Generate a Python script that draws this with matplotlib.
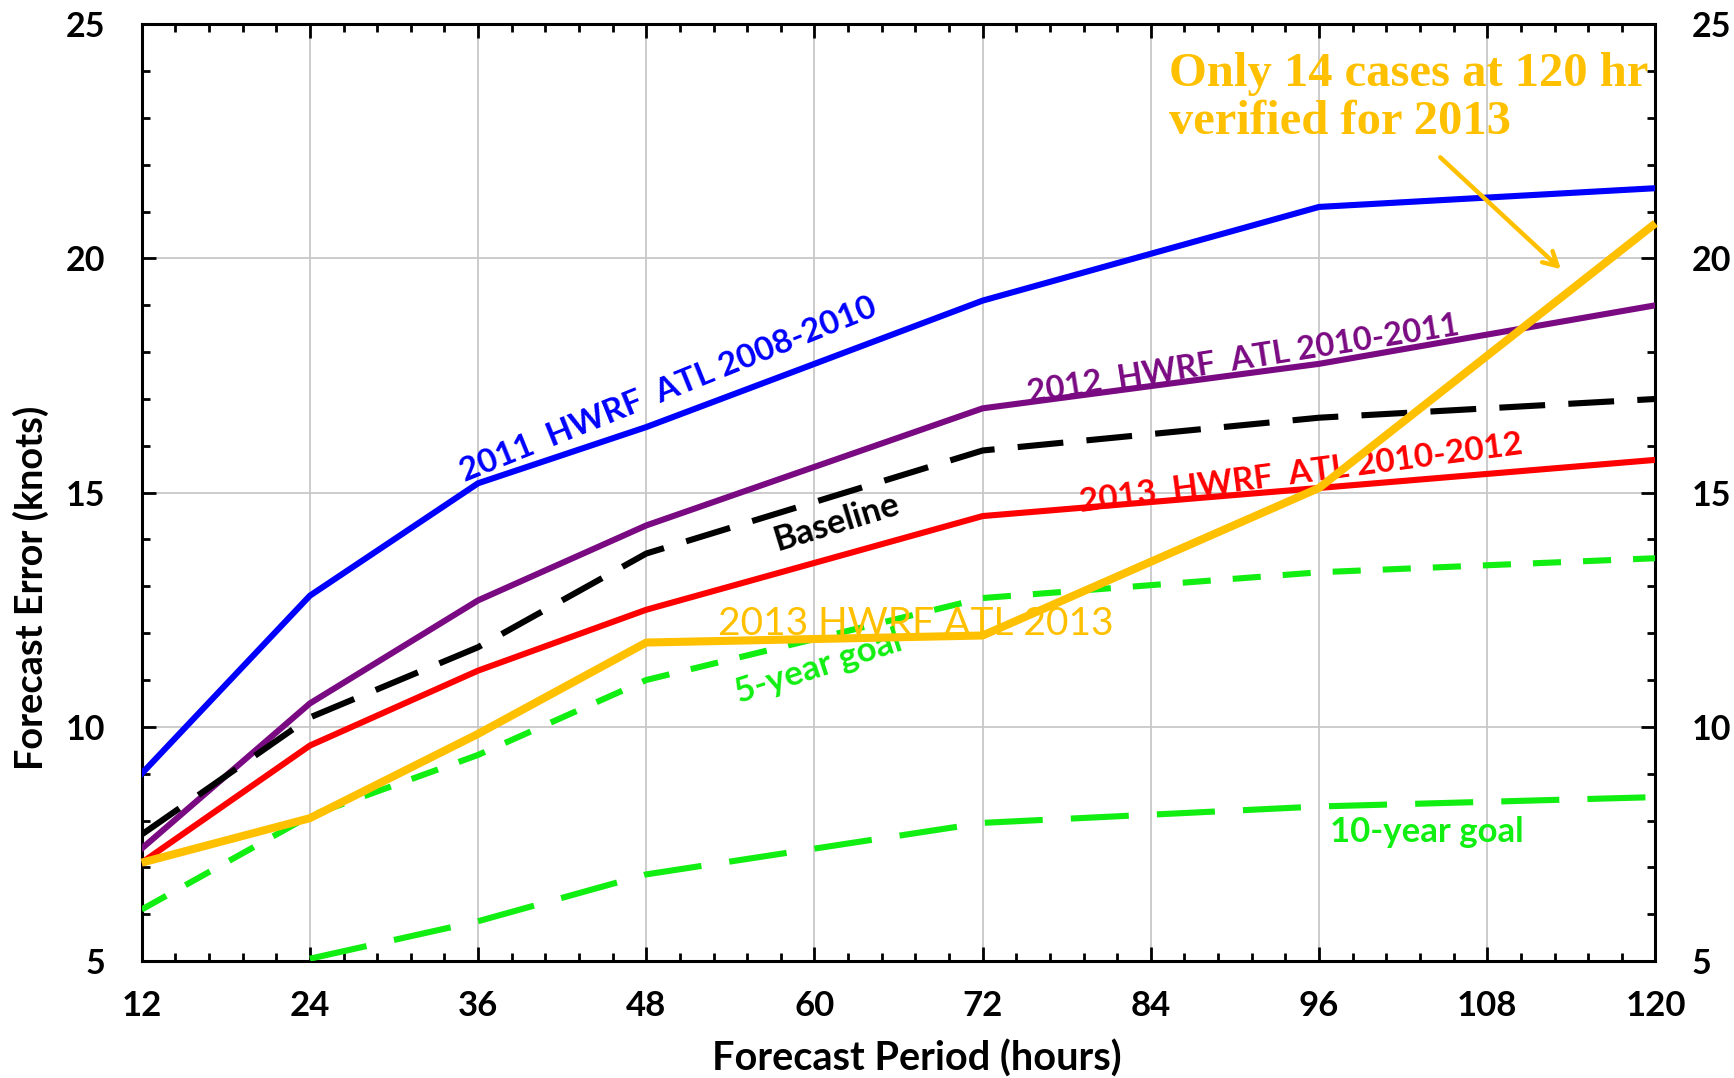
import matplotlib
matplotlib.use("Agg")
import matplotlib.pyplot as plt
from matplotlib.ticker import MultipleLocator

# Forecast lead times (hours)
hours = [12, 24, 36, 48, 72, 96, 120]
hours_10yr = [24, 36, 48, 72, 96, 120]

# Mean intensity forecast errors (knots)
hwrf_2011 = [9.0, 12.8, 15.2, 16.4, 19.1, 21.1, 21.5]
hwrf_2012 = [7.4, 10.5, 12.7, 14.3, 16.8, 17.75, 19.0]
baseline = [7.7, 10.2, 11.7, 13.7, 15.9, 16.6, 17.0]
hwrf_2013 = [7.1, 9.6, 11.2, 12.5, 14.5, 15.1, 15.7]
hwrf_2013_atl2013 = [7.1, 8.05, 9.85, 11.8, 11.95, 15.1, 20.75]
goal_5yr = [6.1, 8.1, 9.4, 11.0, 12.75, 13.3, 13.6]
goal_10yr = [5.05, 5.85, 6.85, 7.95, 8.3, 8.5]

x_ticks = [12, 24, 36, 48, 60, 72, 84, 96, 108, 120]
y_ticks = [5, 10, 15, 20, 25]

BLUE = "#0000FF"
PURPLE = "#7A0A82"
RED = "#FF0000"
GOLD = "#FFC000"
GREEN = "#11EE11"

sans = ["Lato", "DejaVu Sans"]
plt.rcParams["font.family"] = sans

fig = plt.figure(figsize=(17.34, 10.78), dpi=100)
ax = fig.add_axes([0.0817, 0.1085, 0.9547 - 0.0817, 0.9775 - 0.1085])

lw = 4.4
ax.plot(hours, hwrf_2011, color=BLUE, lw=lw, zorder=4)
ax.plot(hours, hwrf_2012, color=PURPLE, lw=lw, zorder=4)
ax.plot(hours, baseline, color="black", lw=lw, linestyle=(0, (7.5, 3.8)), zorder=4)
ax.plot(hours, hwrf_2013, color=RED, lw=lw, zorder=4)
ax.plot(hours, goal_5yr, color=GREEN, lw=lw, linestyle=(0, (4.6, 3.6)), zorder=4)
ax.plot(hours_10yr, goal_10yr, color=GREEN, lw=lw, linestyle=(0, (9.5, 4.6)), zorder=4)
ax.plot(hours, hwrf_2013_atl2013, color=GOLD, lw=5.8, zorder=6, clip_on=False,
        solid_capstyle="butt")

ax.set_xlim(12, 120)
ax.set_ylim(5, 25)
ax.set_xticks(x_ticks)
ax.set_yticks(y_ticks)
ax.xaxis.set_minor_locator(MultipleLocator(2.4))
ax.yaxis.set_minor_locator(MultipleLocator(1))
ax.grid(True, which="major", color="#c8c8c8", lw=1.3, zorder=0)

ax.tick_params(which="both", direction="in", top=True, right=True,
               labelright=True, width=2.0, color="black")
ax.tick_params(which="major", length=10)
ax.tick_params(which="minor", length=6)
ax.tick_params(axis="y", which="major", pad=26, labelsize=24.5)
ax.tick_params(axis="x", which="major", pad=21, labelsize=25)
for t in ax.xaxis.get_major_ticks() + ax.yaxis.get_major_ticks():
    t.label1.set_fontweight("bold")
    t.label2.set_fontweight("bold")
for sp in ax.spines.values():
    sp.set_linewidth(2.2)

ax.set_xlabel("Forecast Period (hours)", fontsize=28.5, fontweight="bold", va="center")
ax.xaxis.set_label_coords(0.512, -0.104)
ax.set_ylabel("Forecast Error (knots)", fontsize=27.3, fontweight="bold", va="center")
ax.yaxis.set_label_coords(-0.073, 0.398)

# Series labels placed along their curves
ax.text(49.6, 17.2, "2011  HWRF  ATL 2008-2010", color=BLUE, fontsize=24,
        fontweight="bold", rotation=22, ha="center", va="center", zorder=5)
ax.text(90.6, 17.85, "2012  HWRF  ATL 2010-2011", color=PURPLE, fontsize=23.5,
        fontweight="bold", rotation=9, ha="center", va="center", zorder=5)
ax.text(61.6, 14.37, "Baseline", color="black", fontsize=25,
        fontweight="bold", rotation=17, ha="center", va="center", zorder=5)
ax.text(94.7, 15.41, "2013  HWRF  ATL 2010-2012", color=RED, fontsize=24,
        fontweight="bold", rotation=7.5, ha="center", va="center", zorder=5)
ax.text(67.2, 12.2, "2013 HWRF ATL 2013", color=GOLD, fontsize=28,
        ha="center", va="center", zorder=5)
ax.text(60.3, 11.28, "5-year goal", color=GREEN, fontsize=25,
        fontweight="bold", rotation=18, ha="center", va="center", zorder=5)
ax.text(103.7, 7.76, "10-year goal", color=GREEN, fontsize=25,
        fontweight="bold", ha="center", va="center", zorder=5)

# Note on the small 120-hr sample
ax.text(85.3, 23.42, "Only 14 cases at 120 hr\nverified for 2013", color=GOLD,
        fontsize=35, fontweight="bold", family=["Liberation Serif", "DejaVu Serif"],
        ha="left", va="center", linespacing=1.12, zorder=7, clip_on=False)
ax.annotate("", xy=(113.4, 19.73), xytext=(104.5, 22.2),
            arrowprops=dict(arrowstyle="->,head_length=1.0,head_width=0.55",
                            color=GOLD, lw=3.2), zorder=7)

fig.savefig("out.png", dpi=100)
